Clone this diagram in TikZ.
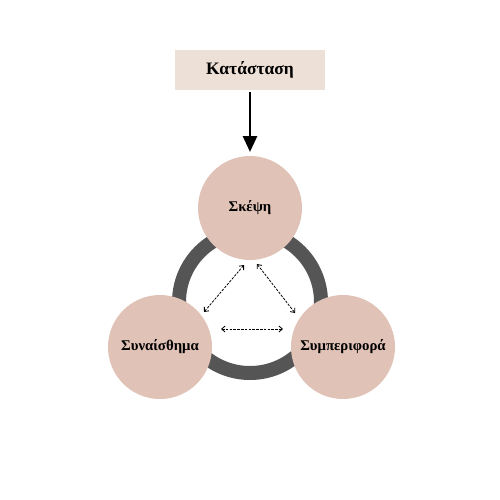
\documentclass[tikz,border=0pt]{standalone}
\usepackage{fontspec}
\setmainfont{Liberation Serif}
\usetikzlibrary{arrows.meta}
\definecolor{boxfill}{HTML}{EDE0D7}
\definecolor{circfill}{HTML}{E0C2B7}
\definecolor{ringcol}{HTML}{555555}
\tikzset{
  topbox/.style={fill=boxfill, minimum width=150pt, minimum height=40pt, inner sep=0pt, font=\fontsize{17.5}{20}\selectfont\bfseries},
  blob/.style={circle, fill=circfill, minimum size=104pt, inner sep=0pt, font=\fontsize{14.8}{16}\selectfont\bfseries},
  mainarrow/.style={-{Triangle[length=16pt,width=14pt]}, line width=2.8pt},
  linkarrow/.style={{Straight Barb[length=3.5pt,width=6pt]}-{Straight Barb[length=3.5pt,width=6pt]}, dashed, dash pattern=on 2.5pt off 1.3pt, line width=0.8pt}
}
\begin{document}
\begin{tikzpicture}[x=1pt,y=-1pt]
\useasboundingbox (0,0) rectangle (500,500);
\fill[white] (0,0) rectangle (500,500);
\node[topbox] (sit) at (250,70) {Κατάσταση};
\coordinate (ringc) at (250,302);
\draw[ringcol, line width=14pt] (ringc) circle[radius=71pt];
\node[blob] (think) at (250,208) {Σκέψη};
\node[blob] (feel) at (160,347) {Συναίσθημα};
\node[blob] (act) at (343,347) {Συμπεριφορά};
\coordinate (a1) at (244,265);
\coordinate (a2) at (204,312);
\coordinate (b1) at (257,264);
\coordinate (b2) at (295,313);
\coordinate (c1) at (221,329);
\coordinate (c2) at (283,329);
\draw[mainarrow] (sit.south) ++(0,2) coordinate (s0) -- (250,152) coordinate (s1);
\draw[linkarrow] (a1) -- (a2);
\draw[linkarrow] (b1) -- (b2);
\draw[linkarrow] (c1) -- (c2);
\end{tikzpicture}
\end{document}
